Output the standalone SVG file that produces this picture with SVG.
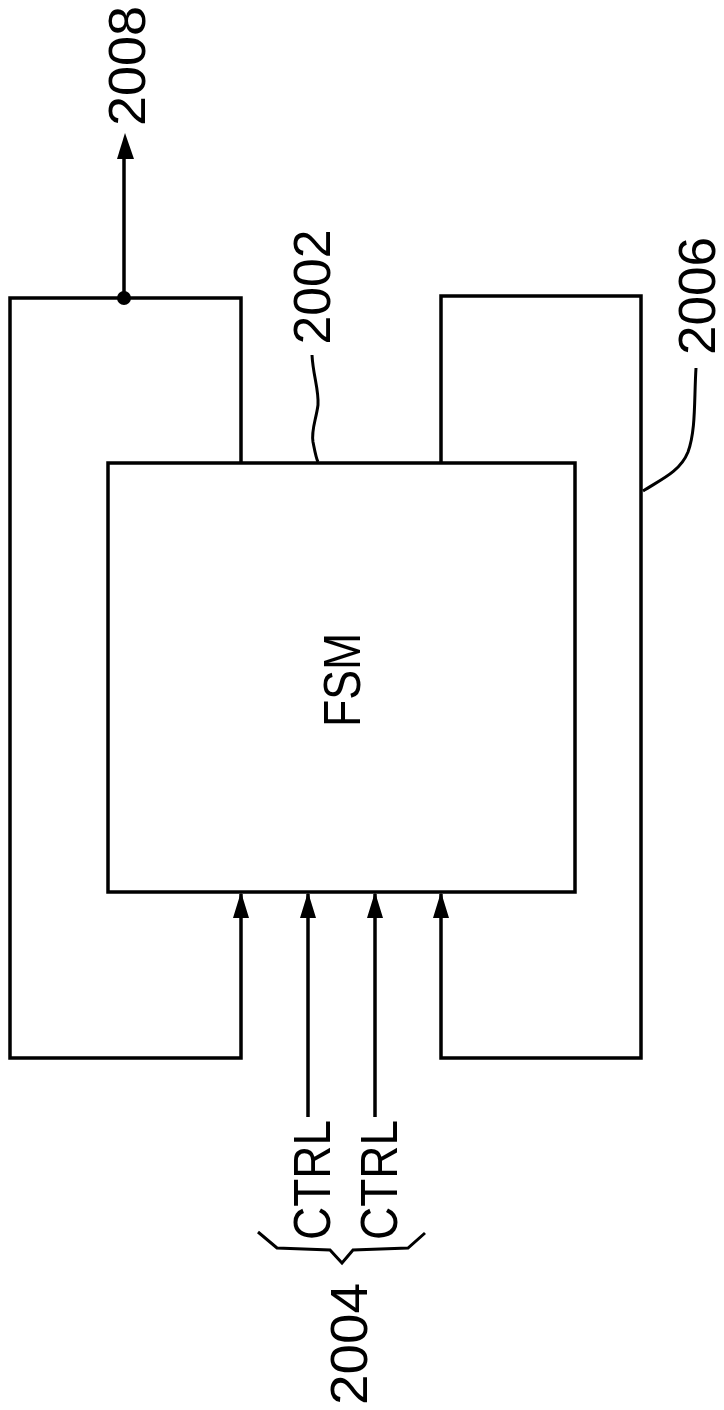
<svg xmlns="http://www.w3.org/2000/svg" width="724" height="1410" viewBox="0 0 724 1410">
<defs>
<marker id="arr" markerWidth="18" markerHeight="26" refX="9" refY="1" orient="auto-start-reverse" markerUnits="userSpaceOnUse" viewBox="0 0 18 26">
<path d="M9,0 L17,26 L1,26 Z" fill="#000"/>
</marker>
<style>
.ln{fill:none;stroke:#000;stroke-width:3.5;stroke-linejoin:miter}
.lb{font-family:"Liberation Sans",Arial,sans-serif;font-size:52px;fill:#000;text-anchor:middle}
.ld{fill:none;stroke:#000;stroke-width:3}
</style>
</defs>
<rect width="724" height="1410" fill="#fff"/>
<g id="fsm">
<rect class="ln" x="108" y="463" width="467" height="429"/>
<text class="lb" transform="translate(360,680) rotate(-90)" textLength="94" lengthAdjust="spacingAndGlyphs">FSM</text>
</g>
<g id="connectors">
<path class="ln" d="M241,463 V298 H10 V1058 H241 V894"/>
<path class="ln" d="M441,463 V296 H641 V1058 H441 V894"/>
<line class="ln" x1="308" y1="1117" x2="308" y2="894"/>
<line class="ln" x1="375" y1="1117" x2="375" y2="894"/>
<path d="M241,892 L249,918 L233,918 Z M308,892 L316,918 L300,918 Z M375,892 L383,918 L367,918 Z M441,892 L449,918 L433,918 Z" fill="#000"/>
<circle cx="124" cy="298" r="7" fill="#000"/>
<line class="ln" x1="124" y1="298" x2="124" y2="156"/>
<path d="M125,133 L134,159 L117,159 Z" fill="#000"/>
</g>
<g id="label2008">
<text class="lb" transform="translate(145,66) rotate(-90)" textLength="120" lengthAdjust="spacingAndGlyphs">2008</text>
</g>
<g id="label2002">
<text class="lb" transform="translate(330,287) rotate(-90)" textLength="115" lengthAdjust="spacingAndGlyphs">2002</text>
<path class="ld" d="M312,355 C313,375 319,390 318,405 C316,420 311,430 313,442 C315,452 316,458 318,462"/>
</g>
<g id="label2006">
<text class="lb" transform="translate(715,296) rotate(-90)" textLength="118" lengthAdjust="spacingAndGlyphs">2006</text>
<path class="ld" d="M696,368 C694,400 696,430 688,452 C680,472 660,480 643,491"/>
</g>
<g id="label2004">
<text class="lb" transform="translate(330,1180) rotate(-90)" textLength="120" lengthAdjust="spacingAndGlyphs">CTRL</text>
<text class="lb" transform="translate(397,1180) rotate(-90)" textLength="120" lengthAdjust="spacingAndGlyphs">CTRL</text>
<path class="ld" d="M258,1232 L277,1248 L330,1250 L342,1263 L353,1250 L408,1248 L425,1233"/>
<text class="lb" transform="translate(367,1344) rotate(-90)" textLength="122" lengthAdjust="spacingAndGlyphs">2004</text>
</g>
</svg>
